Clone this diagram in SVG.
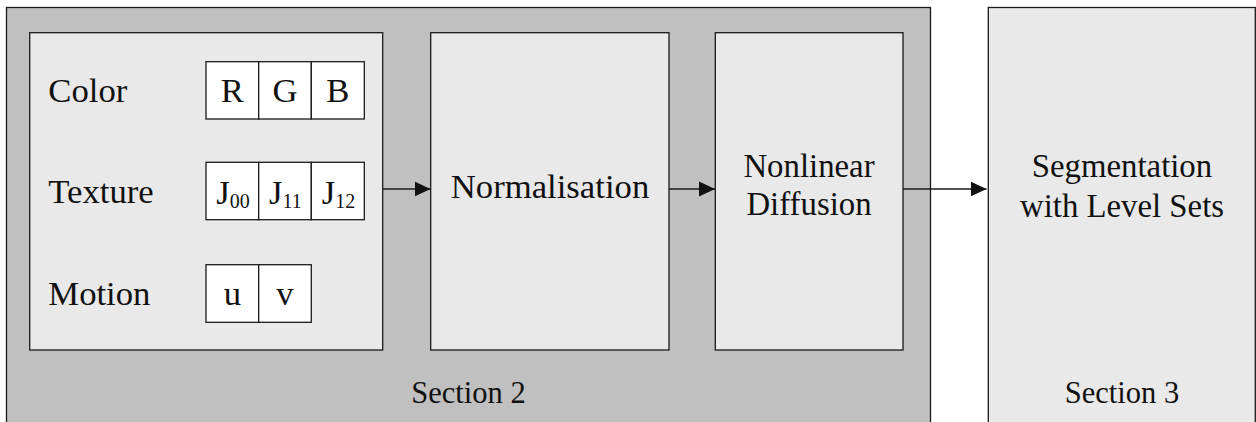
<svg xmlns="http://www.w3.org/2000/svg" width="1256" height="422" viewBox="0 0 1256 422">
<style>
.t{font-family:"Liberation Serif","Times New Roman",serif;fill:#111}
.big{font-size:34.7px}
.mid{font-size:32.8px}
.sec{font-size:30.5px}
.sub{font-size:20px}
.outer{fill:#c0c0c0;stroke:#1a1a1a;stroke-width:1.3}
.box{fill:#e9e9e9;stroke:#1a1a1a;stroke-width:1.3}
.cell{fill:#ffffff;stroke:#1a1a1a;stroke-width:1.3}
.conn{stroke:#1a1a1a;stroke-width:1.3;fill:none}
</style>
<defs>
<marker id="ah" markerUnits="userSpaceOnUse" markerWidth="16" markerHeight="16" viewBox="0 0 15 14" refX="15" refY="7" orient="auto">
<path d="M0,0 L15,7 L0,14 Z" fill="#111"/>
</marker>
</defs>
<rect width="1256" height="422" fill="#ffffff"/>
<g id="section2">
<rect class="outer" x="6.5" y="7.5" width="924" height="420"/>
<text class="t sec" x="468.5" y="403.3" text-anchor="middle">Section 2</text>
</g>
<g id="section3">
<rect class="box" x="988.3" y="7.5" width="267" height="420"/>
<text class="t mid" x="1122" y="176.7" text-anchor="middle">Segmentation</text>
<text class="t mid" x="1122" y="216.7" text-anchor="middle">with Level Sets</text>
<text class="t sec" x="1122" y="403" text-anchor="middle">Section 3</text>
</g>
<g id="features">
<rect class="box" x="29.7" y="32.7" width="353" height="317.3"/>
<text class="t big" x="48.3" y="101.7">Color</text>
<text class="t big" x="48.3" y="203">Texture</text>
<text class="t big" x="48.3" y="305">Motion</text>
</g>
<g id="color-cells">
<rect class="cell" x="206" y="61.7" width="52.7" height="57.3"/>
<rect class="cell" x="258.7" y="61.7" width="52.6" height="57.3"/>
<rect class="cell" x="311.3" y="61.7" width="53" height="57.3"/>
<text class="t big" x="232.3" y="101.7" text-anchor="middle">R</text>
<text class="t big" x="285" y="101.7" text-anchor="middle">G</text>
<text class="t big" x="337.8" y="101.7" text-anchor="middle">B</text>
</g>
<g id="texture-cells">
<rect class="cell" x="206" y="162.3" width="52.7" height="57.4"/>
<rect class="cell" x="258.7" y="162.3" width="52.6" height="57.4"/>
<rect class="cell" x="311.3" y="162.3" width="53" height="57.4"/>
<text class="t big" x="233" y="204" text-anchor="middle">J<tspan class="sub" dy="3.5">00</tspan></text>
<text class="t big" x="285.5" y="204" text-anchor="middle">J<tspan class="sub" dy="3.5">11</tspan></text>
<text class="t big" x="338.5" y="204" text-anchor="middle">J<tspan class="sub" dy="3.5">12</tspan></text>
</g>
<g id="motion-cells">
<rect class="cell" x="206" y="264.7" width="52.7" height="57.6"/>
<rect class="cell" x="258.7" y="264.7" width="52.6" height="57.6"/>
<text class="t big" x="232.3" y="305" text-anchor="middle">u</text>
<text class="t big" x="285" y="305" text-anchor="middle">v</text>
</g>
<g id="normalisation">
<rect class="box" x="430.7" y="32.7" width="238.3" height="317.3"/>
<text class="t big" x="550" y="198.3" text-anchor="middle">Normalisation</text>
</g>
<g id="diffusion">
<rect class="box" x="715.3" y="32.7" width="187.7" height="317.3"/>
<text class="t mid" x="809" y="176.7" text-anchor="middle">Nonlinear</text>
<text class="t mid" x="809" y="215" text-anchor="middle">Diffusion</text>
</g>
<g id="connectors">
<line class="conn" x1="383" y1="189" x2="430.5" y2="189" marker-end="url(#ah)"/>
<line class="conn" x1="669" y1="189" x2="715" y2="189" marker-end="url(#ah)"/>
<line class="conn" x1="903" y1="189" x2="986.5" y2="189" marker-end="url(#ah)"/>
</g>
</svg>
